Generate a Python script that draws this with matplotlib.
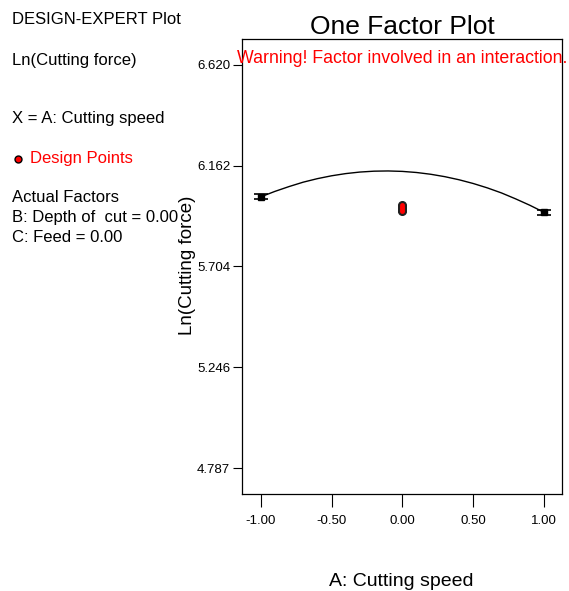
import matplotlib
matplotlib.use('Agg')
import matplotlib.pyplot as plt

plt.rcParams['font.family'] = ['Liberation Sans', 'DejaVu Sans']

# model prediction
curve_x = [-1.0, -0.9, -0.8, -0.7, -0.6, -0.5, -0.4, -0.3, -0.2, -0.1, 0.0,
           0.1, 0.2, 0.3, 0.4, 0.5, 0.6, 0.7, 0.8, 0.9, 1.0]
curve_y = [6.020, 6.045, 6.067, 6.087, 6.103, 6.116, 6.126, 6.133, 6.137, 6.138, 6.136,
           6.131, 6.123, 6.112, 6.098, 6.081, 6.061, 6.038, 6.011, 5.982, 5.950]

# LSD bars at the factor ends
bar_x = [-1.0, 1.0]
bar_y = [6.020, 5.950]
bar_err = [0.011, 0.011]

# design points (replicated centre points)
point_x = [0.0, 0.0, 0.0, 0.0, 0.0]
point_y = [5.954, 5.962, 5.969, 5.976, 5.984]

y_ticks = [4.787, 5.246, 5.704, 6.162, 6.620]
y_labels = ['4.787', '5.246', '5.704', '6.162', '6.620']
x_ticks = [-1.0, -0.5, 0.0, 0.5, 1.0]
x_labels = ['-1.00', '-0.50', '0.00', '0.50', '1.00']

fig = plt.figure(figsize=(5.69, 5.91), dpi=100)
ax = fig.add_axes([0.4253, 0.1641, 0.5624, 0.7699])

ax.plot(curve_x, curve_y, color='black', lw=1.0)
ax.errorbar(bar_x, bar_y, yerr=bar_err, fmt='s', color='black', ms=5,
            capsize=5, capthick=1.2, elinewidth=1.2)
# outline pass then fill pass so the stacked points read as one oval
ax.plot(point_x, point_y, 'o', ms=5.5, mfc='#202020', mec='#202020', ls='none')
ax.plot(point_x, point_y, 'o', ms=3.5, mfc='red', mec='none', ls='none')

ax.set_xlim(-1.132, 1.127)
ax.set_ylim(4.669, 6.738)
ax.set_yticks(y_ticks)
ax.set_yticklabels(y_labels)
ax.set_xticks(x_ticks)
ax.set_xticklabels(x_labels)
ax.tick_params(axis='y', direction='out', length=6.5, width=0.8, pad=2, labelsize=9.5)
ax.tick_params(axis='x', direction='out', length=9, width=0.8, pad=6, labelsize=9.5)
for s in ax.spines.values():
    s.set_linewidth(0.9)

ax.set_title('One Factor Plot', fontsize=19, pad=3)
ax.text(0.5, 0.958, 'Warning! Factor involved in an interaction.', transform=ax.transAxes,
        ha='center', va='center', color='red', fontsize=12.8, clip_on=False)

fig.text(401 / 569, 1 - 581 / 591, 'A: Cutting speed', ha='center', va='center', fontsize=14)
fig.text(188 / 569, 1 - 265 / 591, 'Ln(Cutting force)', ha='center', va='center',
         rotation=90, fontsize=13.5)

# left side info panel
fig.text(12 / 569, 1 - 20 / 591, 'DESIGN-EXPERT Plot', va='center', fontsize=12)
fig.text(12 / 569, 1 - 60 / 591, 'Ln(Cutting force)', va='center', fontsize=12)
fig.text(12 / 569, 1 - 118 / 591, 'X = A: Cutting speed', va='center', fontsize=12)
ax.plot([18 / 569], [1 - 159 / 591], 'o', ms=5, mfc='red', mec='black', mew=1,
        transform=fig.transFigure, clip_on=False)
fig.text(30 / 569, 1 - 158 / 591, 'Design Points', va='center', color='red', fontsize=12)
fig.text(12 / 569, 1 - 198 / 591, 'Actual Factors', va='center', fontsize=12)
fig.text(12 / 569, 1 - 218 / 591, 'B: Depth of  cut = 0.00', va='center', fontsize=12)
fig.text(12 / 569, 1 - 238 / 591, 'C: Feed = 0.00', va='center', fontsize=12)

fig.savefig('out.png', dpi=100)
